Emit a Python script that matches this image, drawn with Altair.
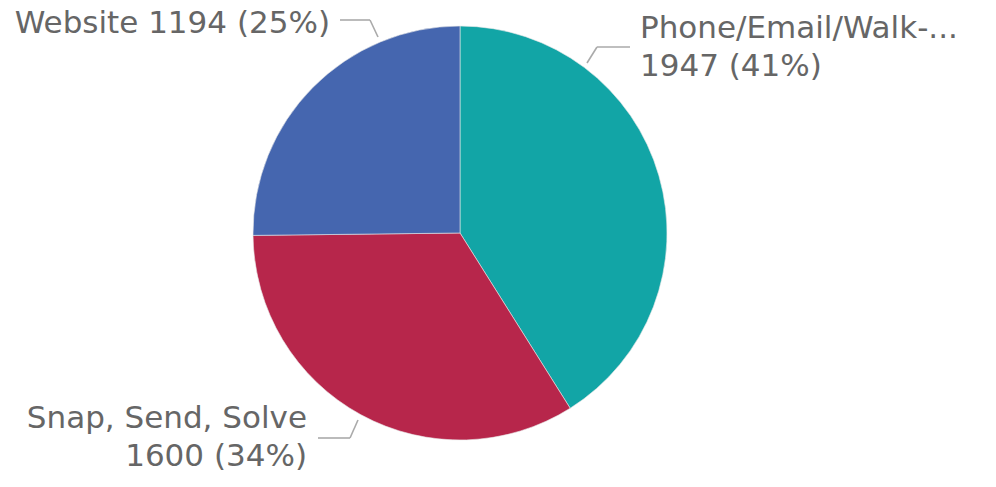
import altair as alt
import pandas as pd

categories = ["Phone/Email/Walk-...", "Snap, Send, Solve", "Website"]
values = [1947, 1600, 1194]
colors = ["#12A5A6", "#B7264B", "#4566AF"]

total = sum(values)
pct = [round(v / total * 100) for v in values]

df = pd.DataFrame({
    "category": categories,
    "value": values,
    "order": [0, 1, 2],
})

# label text built from the data
label_text = [
    f"{categories[0]}\n{values[0]} ({pct[0]}%)",
    f"{categories[1]}\n{values[1]} ({pct[1]}%)",
    f"{categories[2]} {values[2]} ({pct[2]}%)",
]

# layout (pixel positions within chart area)
CX, CY, R = 452, 225, 207
label_layout = [
    dict(x=632, y=30, align="left"),
    dict(x=299, y=420, align="right"),
    dict(x=322, y=25, align="right"),
]
leader_segments = [
    # phone
    (579, 55, 589, 39), (589, 39, 622, 39),
    # snap
    (310, 430, 342, 430), (342, 430, 350, 412),
    # website
    (332, 12, 362, 12), (362, 12, 370, 29),
]

W, H = 980, 471

pie = alt.Chart(df).mark_arc(radius=R, stroke="#e8e8e8", strokeWidth=0.6).encode(
    theta=alt.Theta("value:Q", stack=True),
    order=alt.Order("order:Q"),
    color=alt.Color("category:N", scale=alt.Scale(domain=categories, range=colors), legend=None),
    x=alt.value(CX),
    y=alt.value(CY),
)

layers = [pie]
for (x1, y1, x2, y2) in leader_segments:
    layers.append(
        alt.Chart(df.head(1)).mark_rule(color="#AAAAAA", strokeWidth=1.6).encode(
            x=alt.value(x1), y=alt.value(y1), x2=alt.value(x2), y2=alt.value(y2)
        )
    )

for txt, lay in zip(label_text, label_layout):
    tdf = pd.DataFrame({"t": [txt]})
    layers.append(
        alt.Chart(tdf).mark_text(
            align=lay["align"], baseline="alphabetic", font="DejaVu Sans",
            fontSize=31, color="#666666", lineBreak="\n", lineHeight=38,
        ).encode(text="t:N", x=alt.value(lay["x"]), y=alt.value(lay["y"]))
    )

chart = alt.layer(*layers).properties(
    width=W, height=H, autosize=alt.AutoSizeParams(type="none"), padding=0
).configure_view(stroke=None)

chart.save("out.html", embed_options={"renderer": "svg", "actions": False})
